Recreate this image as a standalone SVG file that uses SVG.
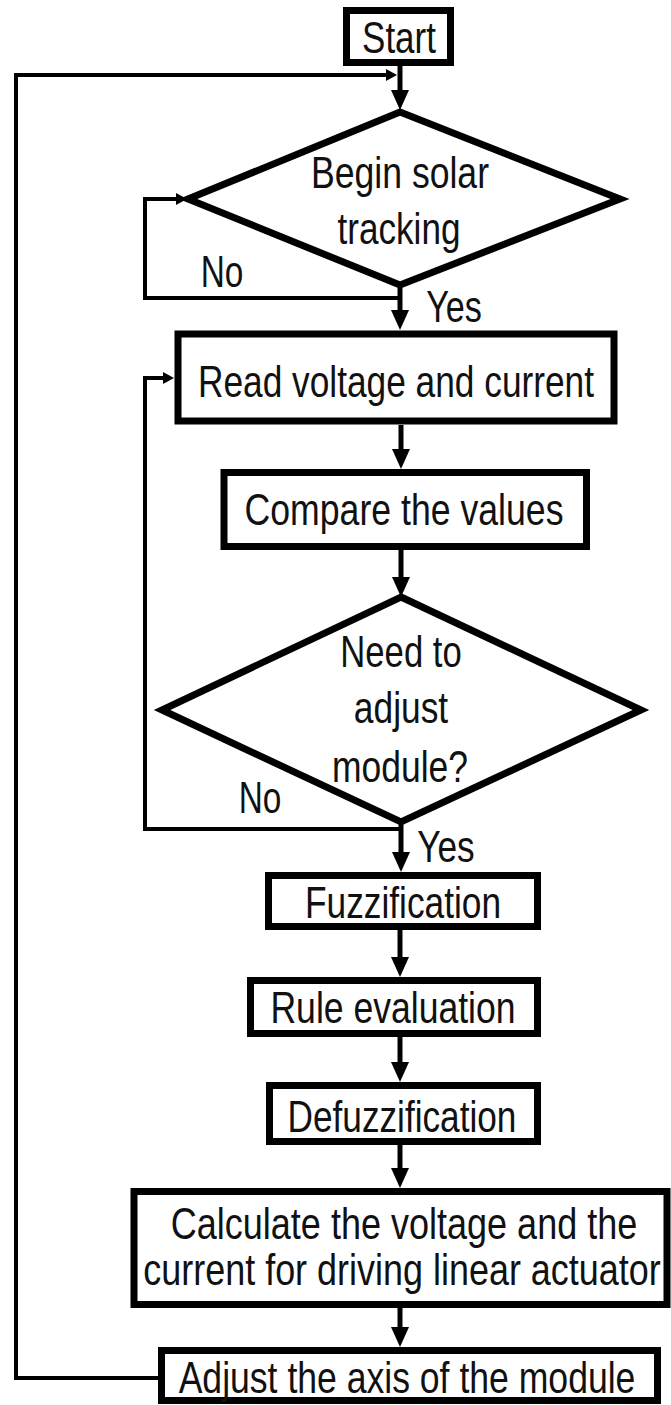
<svg xmlns="http://www.w3.org/2000/svg" width="671" height="1405" viewBox="0 0 671 1405">
  <style>
    .box { fill: #ffffff; stroke: #000000; stroke-width: 7; }
    .dia { fill: #ffffff; stroke: #000000; stroke-width: 7; stroke-linejoin: miter; }
    .flow { fill: none; stroke: #000000; stroke-width: 5; }
    .loop { fill: none; stroke: #000000; stroke-width: 4; }
    text { font-family: "Liberation Sans", Arial, sans-serif; font-size: 44px; fill: #111111; text-anchor: middle; }
  </style>
  <defs>
    <!-- big downward arrowhead; the line ends at the base, the tip sits 20px beyond -->
    <marker id="head" markerUnits="userSpaceOnUse" markerWidth="22" markerHeight="20" viewBox="0 -10 22 20" refX="0" refY="0" orient="auto">
      <path d="M0,-9 L20,0 L0,9 Z" fill="#000"/>
    </marker>
    <!-- small arrowhead used on the return lines -->
    <marker id="small" markerUnits="userSpaceOnUse" markerWidth="12" markerHeight="14" viewBox="0 -7 12 14" refX="0" refY="0" orient="auto">
      <path d="M0,-6 L11,0 L0,6 Z" fill="#000"/>
    </marker>
  </defs>

  <!-- connectors -->
  <g id="connectors">
    <!-- main downward flow -->
    <line class="flow" x1="400" y1="66" x2="400" y2="90" marker-end="url(#head)"/>
    <line class="flow" x1="400" y1="285" x2="400" y2="310" marker-end="url(#head)"/>
    <line class="flow" x1="401" y1="425" x2="401" y2="449" marker-end="url(#head)"/>
    <line class="flow" x1="401" y1="550" x2="401" y2="577" marker-end="url(#head)"/>
    <line class="flow" x1="401" y1="822" x2="401" y2="852" marker-end="url(#head)"/>
    <line class="flow" x1="400" y1="930" x2="400" y2="957" marker-end="url(#head)"/>
    <line class="flow" x1="400" y1="1037" x2="400" y2="1062" marker-end="url(#head)"/>
    <line class="flow" x1="400" y1="1145" x2="400" y2="1168" marker-end="url(#head)"/>
    <line class="flow" x1="400" y1="1308" x2="400" y2="1327" marker-end="url(#head)"/>
    <!-- "No" loop of the first decision -->
    <polyline class="loop" points="400,298 145,298 145,199 176,199" marker-end="url(#small)"/>
    <!-- "No" loop of the second decision -->
    <polyline class="loop" points="401,829 145,829 145,378 163,378" marker-end="url(#small)"/>
    <!-- return from the last step back to the top -->
    <polyline class="loop" points="158,1378 16,1378 16,75 386,75" marker-end="url(#small)"/>
  </g>

  <!-- labels are set in a condensed cut: a horizontal squeeze of 0.82 -->
  <g id="start">
    <rect class="box" x="346.5" y="10.5" width="104" height="52"/>
    <text transform="translate(399 53) scale(0.82 1)" textLength="90" lengthAdjust="spacingAndGlyphs">Start</text>
  </g>

  <g id="begin-tracking">
    <polygon class="dia" points="400,112 620,199 400,285 188,199"/>
    <text transform="translate(400 188) scale(0.82 1)" textLength="217" lengthAdjust="spacingAndGlyphs">Begin solar</text>
    <text transform="translate(399 244) scale(0.82 1)" textLength="150" lengthAdjust="spacingAndGlyphs">tracking</text>
  </g>

  <g id="label-no-1"><text transform="translate(222 287) scale(0.82 1)" textLength="52" lengthAdjust="spacingAndGlyphs">No</text></g>
  <g id="label-yes-1"><text transform="translate(454 322) scale(0.82 1)" textLength="68" lengthAdjust="spacingAndGlyphs">Yes</text></g>

  <g id="read">
    <rect class="box" x="178" y="334" width="436" height="87"/>
    <text transform="translate(396 397) scale(0.82 1)" textLength="483" lengthAdjust="spacingAndGlyphs">Read voltage and current</text>
  </g>

  <g id="compare">
    <rect class="box" x="224" y="472.5" width="362.5" height="74"/>
    <text transform="translate(404 525) scale(0.82 1)" textLength="389" lengthAdjust="spacingAndGlyphs">Compare the values</text>
  </g>

  <g id="need-adjust">
    <polygon class="dia" points="401,597 641,710 401,822 162,710"/>
    <text transform="translate(401 667) scale(0.82 1)" textLength="148" lengthAdjust="spacingAndGlyphs">Need to</text>
    <text transform="translate(401 723) scale(0.82 1)" textLength="115" lengthAdjust="spacingAndGlyphs">adjust</text>
    <text transform="translate(400 782) scale(0.82 1)" textLength="166" lengthAdjust="spacingAndGlyphs">module?</text>
  </g>

  <g id="label-no-2"><text transform="translate(260 813) scale(0.82 1)" textLength="52" lengthAdjust="spacingAndGlyphs">No</text></g>
  <g id="label-yes-2"><text transform="translate(446 862) scale(0.82 1)" textLength="70" lengthAdjust="spacingAndGlyphs">Yes</text></g>

  <g id="fuzzification">
    <rect class="box" x="268.5" y="875.5" width="269" height="51"/>
    <text transform="translate(403 918) scale(0.82 1)" textLength="239" lengthAdjust="spacingAndGlyphs">Fuzzification</text>
  </g>

  <g id="rule-evaluation">
    <rect class="box" x="250.5" y="980.5" width="287" height="53"/>
    <text transform="translate(393 1023) scale(0.82 1)" textLength="299" lengthAdjust="spacingAndGlyphs">Rule evaluation</text>
  </g>

  <g id="defuzzification">
    <rect class="box" x="269.5" y="1085.5" width="268" height="56"/>
    <text transform="translate(402 1132) scale(0.82 1)" textLength="279" lengthAdjust="spacingAndGlyphs">Defuzzification</text>
  </g>

  <g id="calculate">
    <rect class="box" x="134" y="1191.5" width="533" height="113"/>
    <text transform="translate(404 1239) scale(0.82 1)" textLength="569" lengthAdjust="spacingAndGlyphs">Calculate the voltage and the</text>
    <text transform="translate(402 1285) scale(0.82 1)" textLength="631" lengthAdjust="spacingAndGlyphs">current for driving linear actuator</text>
  </g>

  <g id="adjust-axis">
    <rect class="box" x="161.5" y="1350.5" width="496" height="50"/>
    <text transform="translate(407 1393) scale(0.82 1)" textLength="557" lengthAdjust="spacingAndGlyphs">Adjust the axis of the module</text>
  </g>
</svg>
